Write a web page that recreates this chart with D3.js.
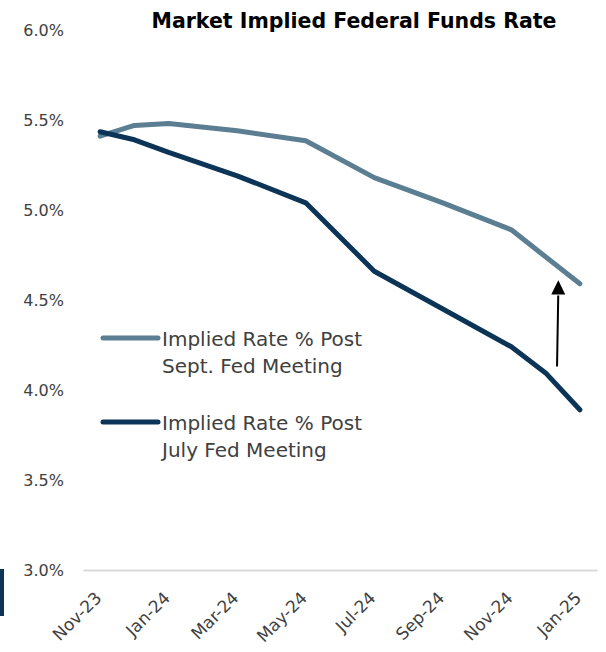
<!DOCTYPE html>
<html>
<head>
<meta charset="utf-8">
<script src="https://cdn.jsdelivr.net/npm/d3@7"></script>
<style>
	body { margin: 0; background: #fff; }
	text { font-family: "DejaVu Sans", sans-serif; }
</style>
</head>
<body>
<div id="plot"></div>
<script>
// monthly categories on the x axis
var months = ["Nov-23", "Dec-23", "Jan-24", "Feb-24", "Mar-24", "Apr-24", "May-24", "Jun-24",
	"Jul-24", "Aug-24", "Sep-24", "Oct-24", "Nov-24", "Dec-24", "Jan-25"];
var tickMonths = ["Nov-23", "Jan-24", "Mar-24", "May-24", "Jul-24", "Sep-24", "Nov-24", "Jan-25"];

// vertices (month, implied rate %)
var septMonths = ["Nov-23", "Dec-23", "Jan-24", "Mar-24", "May-24", "Jul-24", "Sep-24", "Nov-24", "Jan-25"];
var septRates = [5.41, 5.47, 5.48, 5.44, 5.385, 5.18, 5.04, 4.89, 4.59];
var julyMonths = ["Nov-23", "Dec-23", "Jan-24", "Mar-24", "May-24", "Jul-24", "Sep-24", "Nov-24", "Dec-24", "Jan-25"];
var julyRates = [5.435, 5.39, 5.32, 5.19, 5.04, 4.66, 4.45, 4.24, 4.095, 3.89];

var yTicks = [3.0, 3.5, 4.0, 4.5, 5.0, 5.5, 6.0];
var legendLabels = [["Implied Rate % Post", "Sept. Fed Meeting"], ["Implied Rate % Post", "July Fed Meeting"]];

// arrow annotation: bottom, head base and tip in rate %
var arrowRates = [4.13, 4.53, 4.61];

var width = 606, height = 652;
var septColour = "#5b7e92", julyColour = "#0b3457";

var svg = d3.select("#plot")
	.append("svg")
	.attr("width", width)
	.attr("height", height);

//scales
var xScale = d3.scalePoint()
	.domain(months)
	.range([83, 597])
	.padding(0.5);

var yScale = d3.scaleLinear()
	.domain([3.0, 6.0])
	.range([570, 30]);

//title
svg.append("text")
	.attr("x", 354)
	.attr("y", 28)
	.attr("text-anchor", "middle")
	.attr("font-size", 20.5)
	.attr("font-weight", "bold")
	.attr("fill", "#000")
	.text("Market Implied Federal Funds Rate");

//decorative bar bottom left
svg.append("rect")
	.attr("x", 0).attr("y", 569)
	.attr("width", 4).attr("height", 47)
	.attr("fill", julyColour);

//y axis labels
var yAxis = svg.append("g")
	.attr("transform", "translate(64,0)")
	.call(d3.axisLeft(yScale).tickValues(yTicks).tickSize(0).tickPadding(0)
		.tickFormat(function (d) { return d.toFixed(1) + "%"; }));
yAxis.select(".domain").remove();
yAxis.selectAll("text")
	.attr("font-size", 16)
	.attr("fill", "#404040")
	.style("font-family", "DejaVu Sans, sans-serif");

//x axis with bottom gridline
var xAxis = svg.append("g")
	.attr("transform", "translate(0,570)")
	.call(d3.axisBottom(xScale).tickValues(tickMonths).tickSize(0).tickPadding(0));
xAxis.select(".domain")
	.attr("stroke", "#d9d9d9")
	.attr("stroke-width", 2);
xAxis.selectAll("text")
	.attr("font-size", 17)
	.attr("fill", "#404040")
	.attr("text-anchor", "end")
	.attr("dy", null)
	.attr("y", null)
	.attr("transform", "translate(2,29) rotate(-45)")
	.style("font-family", "DejaVu Sans, sans-serif");

//lines
var line = d3.line()
	.x(function (d) { return xScale(d[0]); })
	.y(function (d) { return yScale(d[1]); });

var septData = d3.zip(septMonths, septRates);
var julyData = d3.zip(julyMonths, julyRates);

svg.append("path")
	.datum(septData)
	.attr("d", line)
	.attr("fill", "none")
	.attr("stroke", septColour)
	.attr("stroke-width", 5)
	.attr("stroke-linejoin", "round")
	.attr("stroke-linecap", "round");

svg.append("path")
	.datum(julyData)
	.attr("d", line)
	.attr("fill", "none")
	.attr("stroke", julyColour)
	.attr("stroke-width", 5)
	.attr("stroke-linejoin", "round")
	.attr("stroke-linecap", "round");

//arrow showing the shift between meetings
var arrowX = (xScale("Dec-24") + xScale("Jan-25")) / 2 - 5;
svg.append("line")
	.attr("x1", arrowX - 0.7).attr("y1", yScale(arrowRates[0]))
	.attr("x2", arrowX + 0.5).attr("y2", yScale(arrowRates[1]) + 1)
	.attr("stroke", "#000")
	.attr("stroke-width", 2);

svg.append("path")
	.attr("d", "M" + (arrowX + 0.6) + "," + yScale(arrowRates[2]) +
		"L" + (arrowX + 7.5) + "," + yScale(arrowRates[1]) +
		"L" + (arrowX - 6.5) + "," + yScale(arrowRates[1]) + "Z")
	.attr("fill", "#000");

//legend
var legendColours = [septColour, julyColour];
var legend = svg.append("g")
	.selectAll("g")
	.data(legendLabels)
	.enter().append("g")
	.attr("transform", function (d, i) { return "translate(0," + (338 + i * 84) + ")"; });

legend.append("line")
	.attr("x1", 103).attr("x2", 158)
	.attr("y1", 0).attr("y2", 0)
	.attr("stroke", function (d, i) { return legendColours[i]; })
	.attr("stroke-width", 5)
	.attr("stroke-linecap", "round");

legend.append("text")
	.attr("x", 162)
	.attr("y", 7.5)
	.attr("font-size", 20)
	.attr("fill", "#404040")
	.selectAll("tspan")
	.data(function (d) { return d; })
	.enter().append("tspan")
	.attr("x", 162)
	.attr("dy", function (d, i) { return i === 0 ? 0 : 27; })
	.text(function (d) { return d; });
</script>
</body>
</html>
